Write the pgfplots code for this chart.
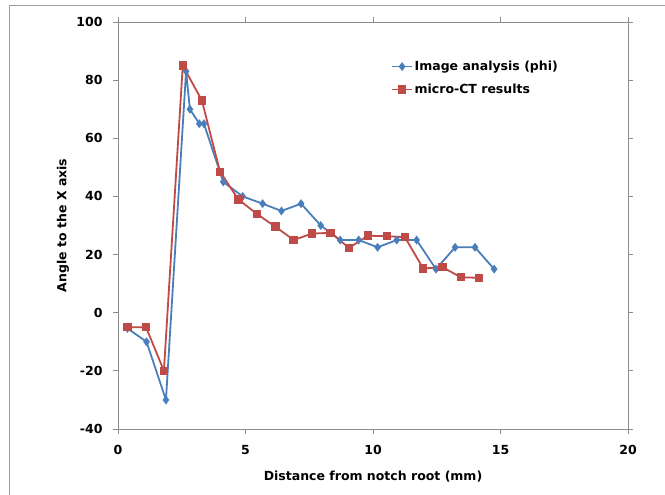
\documentclass[border=0pt]{standalone}
\usepackage{fontspec}
\setmainfont{DejaVu Sans}
\usepackage{pgfplots}
\pgfplotsset{compat=1.18}
\definecolor{bl}{HTML}{4A7EBB}
\definecolor{rd}{HTML}{BE4B48}
\definecolor{axc}{HTML}{8C8C8C}
\begin{document}
\begin{tikzpicture}[x=1pt,y=1pt]
\path[use as bounding box] (0,0) rectangle (665,495);
\draw[gray!75, line width=1pt] (9.5,0) -- (9.5,489) -- (665,489);
\begin{axis}[at={(118pt,66pt)}, anchor=south west, scale only axis,
  width=510pt, height=407pt,
  xmin=0, xmax=20, ymin=-40, ymax=100,
  xtick={0,5,10,15,20}, ytick={-40,-20,0,20,40,60,80,100},
  axis line style={axc, line width=0.8pt}, tick style={axc, line width=0.8pt},
  tick align=outside, major tick length=5pt,
  /pgf/number format/assume math mode=true,
  ticklabel style={font=\bfseries\fontsize{12.5}{14}\selectfont},
  yticklabel style={xshift=-7pt},
  xticklabel style={yshift=-8pt},
  xlabel={Distance from notch root (mm)},
  ylabel={Angle to the X axis},
  label style={font=\bfseries\fontsize{12.5}{15}\selectfont},
  xlabel style={at={(axis description cs:0.5,-0.118)}, anchor=center},
  ylabel style={at={(axis description cs:-0.108,0.5)}, anchor=center},
  legend style={at={(axis cs:10.6,88)}, anchor=north west, draw=none, fill=none,
    font=\bfseries\fontsize{12.5}{15}\selectfont, row sep=8pt,
    /tikz/every even column/.append style={column sep=2pt}},
  legend cell align=left,
  legend image code/.code={\draw[mark repeat=2,mark phase=2] plot coordinates {(0cm,0cm) (0.34cm,0cm) (0.68cm,0cm)};},
]
\addplot[bl, line width=1.8pt, mark=diamond*, mark size=3pt, mark options={solid,fill=bl}] coordinates {
(0.37,-5.4) (1.12,-10) (1.88,-30) (2.67,83) (2.82,70) (3.19,65) (3.37,65)
(4.13,45) (4.89,40) (5.67,37.5) (6.41,35) (7.18,37.5) (7.95,30) (8.71,25)
(9.44,25) (10.18,22.5) (10.93,25) (11.71,25) (12.47,15) (13.22,22.5) (14.0,22.5) (14.75,15)
};
\addlegendentry{Image analysis (phi)}
\addplot[rd, line width=1.8pt, mark=square*, mark size=3.3pt, mark options={solid,fill=rd}] coordinates {
(0.37,-5) (1.1,-5) (1.8,-20) (2.54,85) (3.29,73) (4.0,48.5) (4.72,39) (5.44,34)
(6.17,29.6) (6.89,25) (7.6,27.2) (8.34,27.5) (9.06,22.3) (9.8,26.5) (10.54,26.3)
(11.25,26) (11.97,15.2) (12.72,15.7) (13.44,12.2) (14.16,12)
};
\addlegendentry{micro-CT results}
\end{axis}
\end{tikzpicture}
\end{document}
